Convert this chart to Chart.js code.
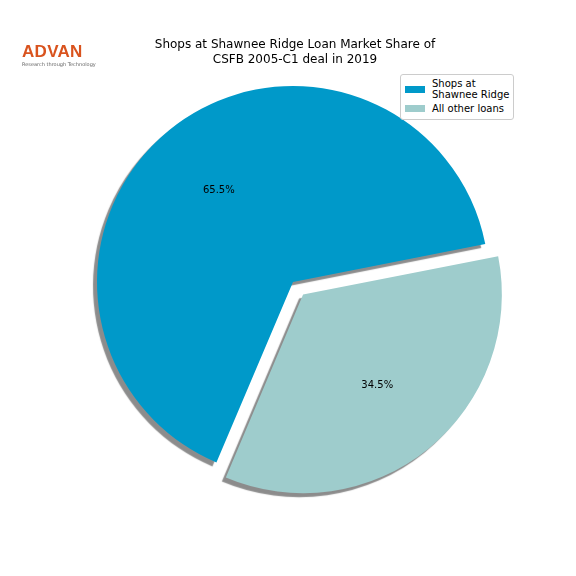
<!DOCTYPE html>
<html>
<head>
<meta charset="UTF-8">
<title>Shops at Shawnee Ridge Loan Market Share</title>
<script src="https://cdn.jsdelivr.net/npm/chart.js@4/dist/chart.umd.min.js"></script>
<style>
  body { margin:0; font-family:"DejaVu Sans", sans-serif; }
  #wrap { position:relative; width:576px; height:576px; background:#fff; }
  #title { position:absolute; left:95px; width:400px; top:37px; text-align:center; font-size:12px; line-height:15px; color:#000; }
  #logo { position:absolute; left:22px; top:42px; }
  #logo .big { color:#d9531e; font-size:17px; font-weight:bold; letter-spacing:0.3px; font-family:"Liberation Sans", sans-serif; }
  #logo .small { color:#666; font-size:5px; margin-top:-1px; }
  #legend { position:absolute; left:400px; top:74px; width:112px; border:1px solid #ccc; border-radius:3px; font-size:10px; line-height:11px; padding:3px 0 2px; background:#fff; white-space:nowrap; }
  .item { display:flex; align-items:flex-start; margin:0 4px 3px 4px; }
  .sw { width:20px; height:7px; margin:8px 7px 0 0; flex:none; }
  .item.one .sw { margin-top:8px; }
  .item.two .sw { margin-top:2px; }
</style>
</head>
<body>
<div id="wrap">
  <canvas id="pie" width="576" height="576"></canvas>
  <div id="logo"><div class="big">ADVAN</div><div class="small">Research through Technology</div></div>
  <div id="title">Shops at Shawnee Ridge Loan Market Share of<br>CSFB 2005-C1 deal in 2019</div>
  <div id="legend"></div>
</div>
<script>
const labels = ["Shops at\nShawnee Ridge", "All other loans"];
const shares = [65.5, 34.5];
const colors = ["#0099c9", "#9ecccc"];
const explode = [0, 16];

const legend = document.getElementById("legend");
labels.forEach((l, i) => {
  legend.innerHTML += `<div class="item ${i ? "two" : "one"}"><div class="sw" style="background:${colors[i]}"></div><div>${l.replace("\n", "<br>")}</div></div>`;
});

const shadowPlugin = {
  id: "shadow",
  beforeDatasetDraw(chart) {
    const ctx = chart.ctx;
    ctx.save();
    ctx.shadowColor = "rgba(0,0,0,0.45)";
    ctx.shadowOffsetX = -4;
    ctx.shadowOffsetY = 4;
    ctx.shadowBlur = 1;
  },
  afterDatasetDraw(chart) {
    chart.ctx.restore();
    const ctx = chart.ctx;
    const arcs = chart.getDatasetMeta(0).data;
    ctx.save();
    ctx.fillStyle = "#000";
    ctx.font = "10px 'DejaVu Sans'";
    ctx.textAlign = "center";
    ctx.textBaseline = "middle";
    arcs.forEach((a, i) => {
      const mid = (a.startAngle + a.endAngle) / 2;
      const r = a.outerRadius * 0.6 + explode[i];
      ctx.fillText(shares[i].toFixed(1) + "%", a.x + Math.cos(mid) * r, a.y + Math.sin(mid) * r);
    });
    ctx.restore();
  }
};

new Chart(document.getElementById("pie"), {
  type: "pie",
  data: {
    labels: labels,
    datasets: [{
      data: shares,
      backgroundColor: colors,
      borderWidth: 0,
      offset: explode.map(e => e * 4),
      hoverOffset: 0
    }]
  },
  options: {
    responsive: false,
    animation: false,
    rotation: 203,
    radius: 196,
    layout: { padding: { left: 96, right: 86, top: 85, bottom: 97 } },
    plugins: { legend: { display: false }, tooltip: { enabled: false } }
  },
  plugins: [shadowPlugin]
});
</script>
</body>
</html>
